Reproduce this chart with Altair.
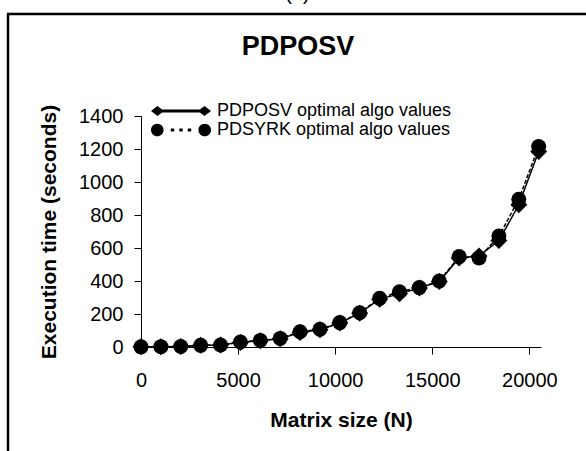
import altair as alt
import pandas as pd

# ---- data ----
matrix_size = [0, 1024, 2048, 3072, 4096, 5120, 6144, 7168, 8192, 9216, 10240,
               11264, 12288, 13312, 14336, 15360, 16384, 17408, 18432, 19456, 20480]
pdposv_time = [1, 2, 3, 10, 12, 28, 38, 50, 88, 105, 145,
               205, 290, 322, 357, 397, 540, 552, 645, 862, 1185]
pdsyrk_time = [1, 2, 3, 10, 12, 30, 40, 52, 92, 108, 148,
               208, 295, 335, 360, 400, 548, 540, 672, 895, 1215]
series_names = ["PDPOSV optimal algo values", "PDSYRK optimal algo values"]
x_ticks = [0, 5000, 10000, 15000, 20000]
y_ticks = [0, 200, 400, 600, 800, 1000, 1200, 1400]
chart_title = ["PDPOSV"]
panel_label = ["(a)"]
x_title = "Matrix size (N)"
y_title = "Execution time (seconds)"

FONT = "Liberation Sans"

df = pd.DataFrame({
    "N": matrix_size + matrix_size,
    "t": pdposv_time + pdsyrk_time,
    "series": [series_names[0]] * len(matrix_size) + [series_names[1]] * len(matrix_size),
})

x_enc = alt.X("N:Q", scale=alt.Scale(domain=[0, 20600], nice=False, zero=False),
              axis=alt.Axis(values=x_ticks, format="d", title=x_title, tickSize=7,
                            labelPadding=16, labelFontSize=20, titleFontSize=21,
                            titleFontWeight="bold", titleX=200, titleY=79,
                            titleBaseline="alphabetic", titleAlign="center",
                            labelFlush=False, labelOverlap=False))
y_enc = alt.Y("t:Q", scale=alt.Scale(domain=[0, 1400], nice=False),
              axis=alt.Axis(values=y_ticks, format="d", title=y_title, tickSize=7,
                            labelPadding=11, labelFontSize=20, titleFontSize=21,
                            titleFontWeight="bold", titleAngle=270, titleX=-86,
                            titleY=115.5, titleBaseline="alphabetic",
                            titleAlign="center", labelFlush=False))

base = alt.Chart(df)

line_posv = base.transform_filter(alt.datum.series == series_names[0]).mark_line(
    color="black", strokeWidth=1.5).encode(x=x_enc, y=y_enc)
pts_posv = base.transform_filter(alt.datum.series == series_names[0]).mark_point(
    shape="diamond", filled=True, color="black", size=289, opacity=1).encode(x=x_enc, y=y_enc)
line_syrk = base.transform_filter(alt.datum.series == series_names[1]).mark_line(
    color="black", strokeWidth=1.5, strokeDash=[4, 2]).encode(x=x_enc, y=y_enc)
pts_syrk = base.transform_filter(alt.datum.series == series_names[1]).mark_point(
    shape="circle", filled=True, color="black", size=225, opacity=1).encode(x=x_enc, y=y_enc)

# legend symbols (line + markers) as custom paths
PATH_POSV = ("M-3,0L-2.35,-0.5L-1.7,0L-2.35,0.5Z "
             "M1.7,0L2.35,-0.5L3,0L2.35,0.5Z "
             "M-2.35,-0.15L2.35,-0.15L2.35,0.15L-2.35,0.15Z")
PATH_SYRK = ("M-3,0A0.63,0.63 0 1,1 -1.74,0A0.63,0.63 0 1,1 -3,0Z "
             "M1.74,0A0.63,0.63 0 1,1 3,0A0.63,0.63 0 1,1 1.74,0Z "
             "M-1.02,-0.16L-0.68,-0.16L-0.68,0.16L-1.02,0.16Z "
             "M-0.17,-0.16L0.17,-0.16L0.17,0.16L-0.17,0.16Z "
             "M0.68,-0.16L1.02,-0.16L1.02,0.16L0.68,0.16Z")

legend_layer = base.mark_point(filled=True, color="black", opacity=0).encode(
    x=x_enc, y=y_enc,
    shape=alt.Shape("series:N",
                    scale=alt.Scale(domain=series_names, range=[PATH_POSV, PATH_SYRK]),
                    legend=alt.Legend(orient="none", legendX=10, legendY=-15, title=None,
                                      direction="vertical", symbolSize=400, symbolOffset=20,
                                      labelOffset=26, rowPadding=0, padding=0,
                                      symbolFillColor="black", symbolStrokeColor="black",
                                      symbolStrokeWidth=0, symbolOpacity=1,
                                      labelFont=FONT, labelFontSize=18, labelColor="black",
                                      labelLimit=400)))

title_text = alt.Chart(pd.DataFrame({"txt": chart_title})).mark_text(
    font=FONT, fontSize=27, fontWeight="bold", color="black", align="center",
    baseline="alphabetic").encode(x=alt.value(157), y=alt.value(-61), text="txt:N")
panel_text = alt.Chart(pd.DataFrame({"txt": panel_label})).mark_text(
    font=FONT, fontSize=20, color="black", align="center",
    baseline="alphabetic").encode(x=alt.value(156.5), y=alt.value(-116), text="txt:N")

frame_df = pd.DataFrame({"k": [0]})
frame_left = alt.Chart(frame_df).mark_rule(color="black", strokeWidth=2.5).encode(
    x=alt.value(-133), y=alt.value(-102), y2=alt.value(340))
frame_top = alt.Chart(frame_df).mark_rule(color="black", strokeWidth=2.5).encode(
    x=alt.value(-134), x2=alt.value(450), y=alt.value(-102))

chart = alt.layer(
    frame_left, frame_top, panel_text, title_text,
    line_posv, pts_posv, line_syrk, pts_syrk, legend_layer
).properties(
    width=400, height=231,
    autosize=alt.AutoSizeParams(type="none"),
    padding={"left": 141, "top": 116, "right": 45, "bottom": 104},
    background="white",
).configure_view(stroke=None).configure_axis(
    grid=False, domainColor="black", domainWidth=1, tickColor="black", tickWidth=1,
    labelColor="black", titleColor="black", labelFont=FONT, titleFont=FONT,
)

chart.save("out.html", embed_options={"renderer": "svg", "actions": False})
